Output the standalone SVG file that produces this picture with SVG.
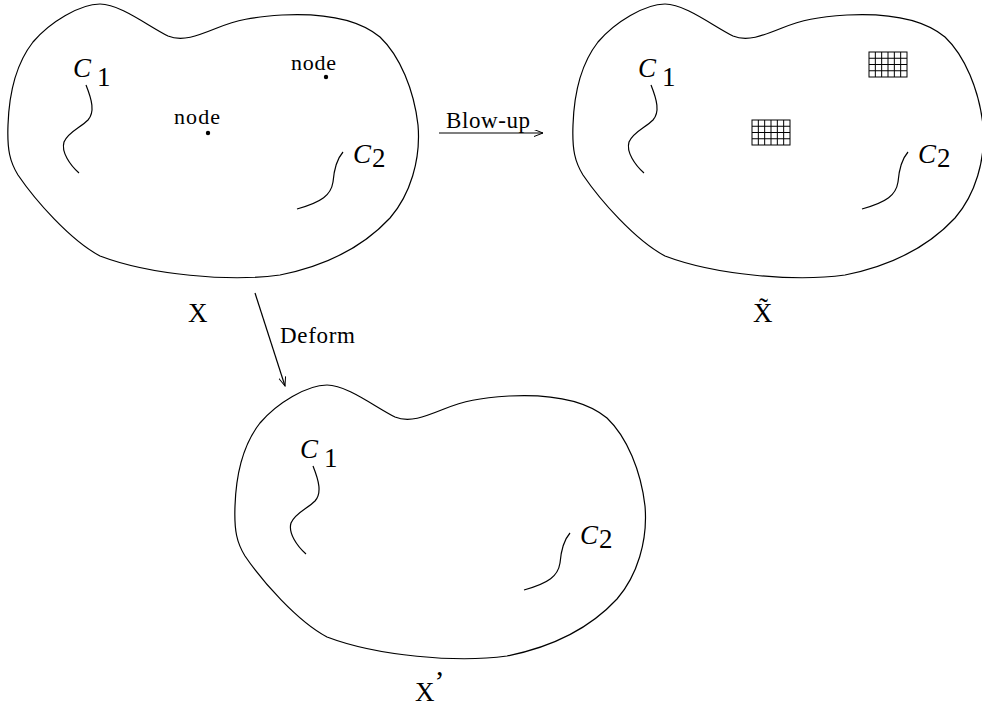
<svg xmlns="http://www.w3.org/2000/svg" width="982" height="707" viewBox="0 0 982 707">
<style>
.ln{fill:none;stroke:#000;stroke-width:1.2}
.t{font-family:"Liberation Serif","Times New Roman",serif;fill:#000}
.it{font-style:italic}
.g{fill:none;stroke:#000;stroke-width:1}
</style>
<defs>
<path id="outline" d="M100,4 C120,4 148,26 168,36 C182,42 197,36 217,28 C237,20 252,17 282,15 C322,13 357,18 380,37 C400,56 414,90 418,125 C421,160 410,195 390,218 C365,245 330,265 280,275 C230,282 150,275 100,256 C70,240 35,200 18,175 C10,162 7,150 8,125 C9,95 15,65 33,42 C50,22 80,4 100,4 Z"/>
<path id="c1" d="M86,85 C92,100 95,112 88,120 C80,128 68,132 64,142 C61,152 70,165 79,173"/>
<path id="c2" d="M343,152 C336,160 334,170 333,182 C331,195 322,202 297,209"/>
<g id="grid">
<rect x="0" y="0" width="38" height="25"/>
<path d="M6.33,0V25M12.67,0V25M19,0V25M25.33,0V25M31.67,0V25M0,6.25H38M0,12.5H38M0,18.75H38"/>
</g>
<marker id="ah" markerWidth="10" markerHeight="8" refX="9" refY="3.5" orient="auto" markerUnits="userSpaceOnUse">
<path d="M0,0 L9,3.5 L0,7" fill="none" stroke="#000" stroke-width="1"/>
</marker>
</defs>

<g id="blobX">
<use href="#outline" class="ln"/>
<use href="#c1" class="ln"/>
<use href="#c2" class="ln"/>
<text class="t it" x="73" y="77" font-size="27">C</text>
<text class="t" x="97" y="86" font-size="27">1</text>
<text class="t it" x="353" y="163" font-size="27">C</text>
<text class="t" x="372" y="167" font-size="27">2</text>
<text class="t" x="291" y="70" font-size="22" textLength="45">node</text>
<circle cx="326" cy="77" r="2.2"/>
<text class="t" x="174" y="124" font-size="22" textLength="46">node</text>
<circle cx="208" cy="133" r="2.2"/>
</g>
<text id="labelX" class="t" x="188" y="322" font-size="27">X</text>

<g id="blobXtilde" transform="translate(565,0)">
<use href="#outline" class="ln"/>
<use href="#c1" class="ln"/>
<use href="#c2" class="ln"/>
<text class="t it" x="73" y="77" font-size="27">C</text>
<text class="t" x="97" y="86" font-size="27">1</text>
<text class="t it" x="353" y="163" font-size="27">C</text>
<text class="t" x="372" y="167" font-size="27">2</text>
</g>
<g id="grids" class="g">
<use href="#grid" x="869" y="52"/>
<use href="#grid" x="752" y="120"/>
</g>
<text id="labelXtilde" class="t" x="753" y="322" font-size="27">X&#x303;</text>

<g id="blobXprime" transform="translate(227,381)">
<use href="#outline" class="ln"/>
<use href="#c1" class="ln"/>
<use href="#c2" class="ln"/>
<text class="t it" x="73" y="77" font-size="27">C</text>
<text class="t" x="97" y="86" font-size="27">1</text>
<text class="t it" x="353" y="163" font-size="27">C</text>
<text class="t" x="372" y="167" font-size="27">2</text>
</g>
<text id="labelXprime" class="t" x="415" y="701" font-size="27">X<tspan font-size="30" dy="-10">’</tspan></text>

<g id="connectors">
<line x1="439" y1="133" x2="543" y2="133" class="ln" stroke-width="1" marker-end="url(#ah)"/>
<text class="t" x="446" y="128" font-size="23" textLength="84">Blow-up</text>
<line x1="255" y1="293" x2="285" y2="386" class="ln" stroke-width="1" marker-end="url(#ah)"/>
<text class="t" x="280" y="343" font-size="23" textLength="75">Deform</text>
</g>
</svg>
